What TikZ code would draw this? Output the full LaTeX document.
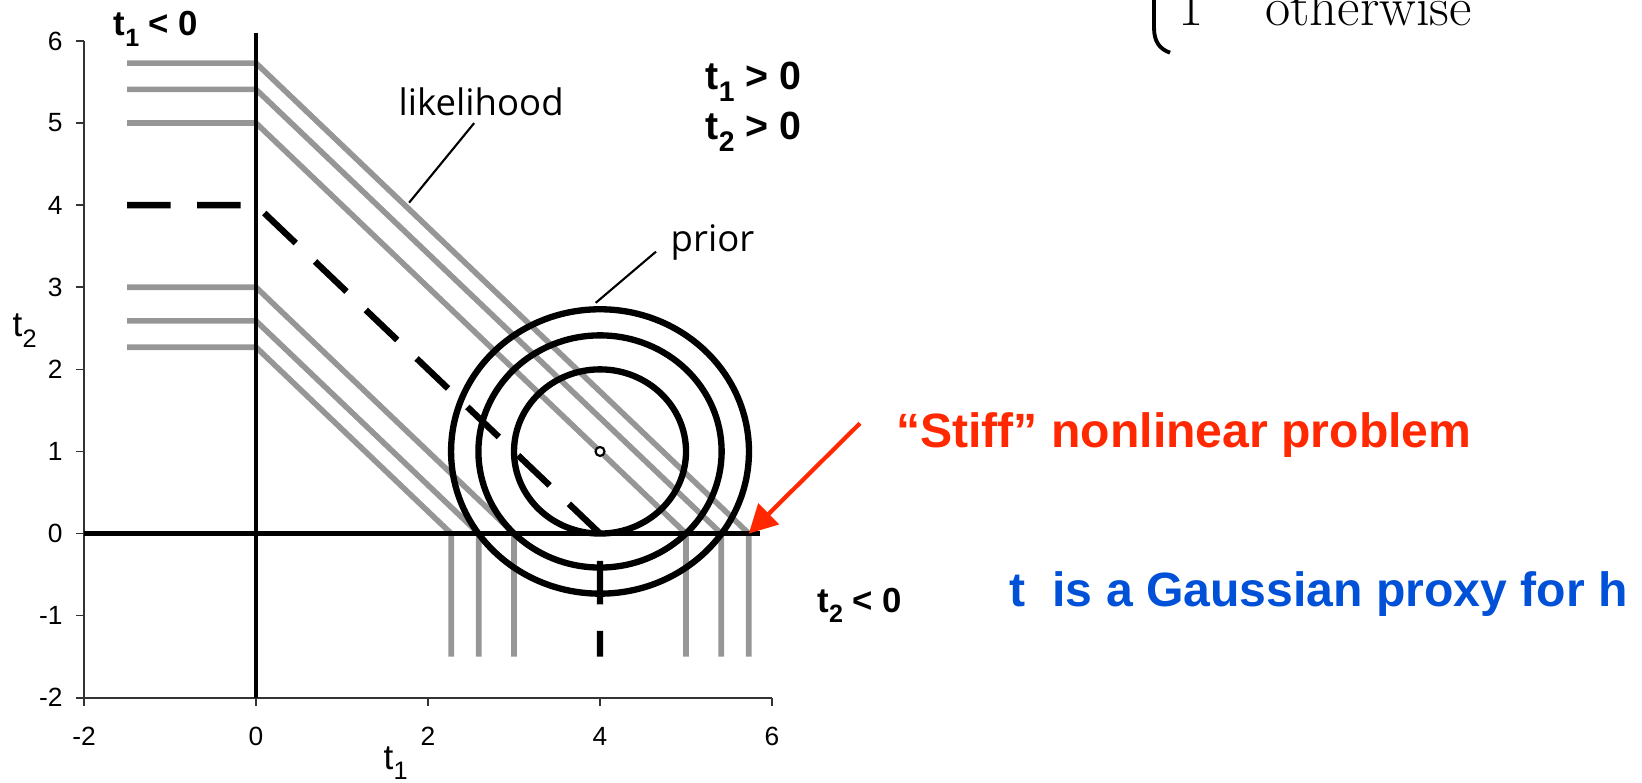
\documentclass[tikz,border=0pt]{standalone}
\usepackage{fontspec}
\usepackage{xcolor}
\usepackage{tikz}
\usetikzlibrary{arrows.meta}
\newfontfamily\arialf{Liberation Sans}
\newfontfamily\opensf{Open Sans}
\definecolor{stiffred}{RGB}{255,40,0}
\definecolor{proxyblue}{RGB}{0,80,216}
\definecolor{likegray}{RGB}{150,150,150}
\newcommand{\tsub}[1]{\raisebox{-.3em}{\scalebox{.72}{#1}}}

\begin{document}
\begin{tikzpicture}[x=0.86cm,y=0.821cm,>=Stealth,
  likeline/.style={likegray,line width=1.6pt},
  axisline/.style={black,line width=1.3pt},
  frameline/.style={black!80,line width=0.45pt},
  priorring/.style={black,line width=1.8pt},
  mapline/.style={black,line width=1.8pt,dash pattern=on 0.435cm off 0.267cm},
  leader/.style={black,line width=0.6pt},
  ticklab/.style={inner sep=0pt,font=\arialf\fontsize{7.5}{9}\selectfont},
  axislab/.style={inner sep=0pt,anchor=base west,font=\arialf\fontsize{10}{12}\selectfont},
  regionlab/.style={inner sep=0pt,anchor=base west,font=\arialf\bfseries\fontsize{9.9}{11}\selectfont},
  notelab/.style={inner sep=0pt,anchor=base west,font=\opensf\fontsize{10.4}{12}\selectfont},
  slidelab/.style={inner sep=0pt,anchor=base west,font=\arialf\bfseries\fontsize{13.7}{16}\selectfont}]
  \useasboundingbox (-2.977,-3.026) rectangle (16.116,6.499);

  % likelihood contours (truncated at t1=0 and t2=0)
  \foreach \c in {2.27,2.59,3,5,5.41,5.73}
    \draw[likeline] (-1.5,\c) -- (0,\c) -- (\c,0) -- (\c,-1.5);

  % frame with ticks
  \draw[frameline] (-2,6) -- (-2,-2) -- (6,-2);
  \foreach \k in {-2,...,6} {
    \draw[frameline] (-2,\k) -- ++(-0.08cm,0);
    \node[ticklab,anchor=east] (yl\k) at (-2.241,\k) {\k};
  }
  \foreach \k in {-2,0,2,4,6} {
    \draw[frameline] (\k,-2) -- ++(0,-0.08cm);
    \node[ticklab,anchor=north] (xl\k) at (\k,-2.352) {\k};
  }
  \node[axislab] (t2lab) at (-2.837,2.398) {t\tsub{2}};
  \node[axislab] (t1lab) at (1.477,-2.87) {t\tsub{1}};

  \draw[axisline] (0,6.1) -- (0,-2);
  \draw[axisline] (-2,0) -- (5.86,0);

  % MAP path
  \draw[mapline] (-1.5,4) -- (0,4) -- (4,0) -- (4,-1.5);

  % prior contours
  \foreach \r in {1,1.414,1.732}
    \draw[priorring] (4,1) circle[radius=\r];
  \draw[line width=0.6pt,fill=white] (4,1) circle[radius=0.045cm];

  \node[regionlab] (negone) at (-1.663,6.061) {t\tsub{1} < 0};
  \node[regionlab,font=\arialf\bfseries\fontsize{11.2}{13}\selectfont] (posone) at (5.221,5.403) {t\tsub{1} > 0};
  \node[regionlab,font=\arialf\bfseries\fontsize{11.2}{13}\selectfont] (postwo) at (5.221,4.794) {t\tsub{2} > 0};
  \node[regionlab] (negtwo) at (6.520,-0.959) {t\tsub{2} < 0};

  \node[notelab] (lik) at (1.651,5.098) {likelihood};
  \node[notelab] (prior) at (4.814,3.434) {prior};
  \coordinate (likpt) at (1.78,4.03);
  \coordinate (priorpt) at (3.95,2.81);
  \draw[leader] ([shift={(-0.07cm,-0.07cm)}]lik.south) -- (likpt);
  \draw[leader] ([xshift=-0.14cm]prior.base west) -- (priorpt);

  \node[slidelab,text=stiffred] (stiff) at (7.437,1.046) {“Stiff” nonlinear problem};
  \coordinate (stiffpt) at (5.73,0);
  \draw[stiffred,line width=1.2pt,-{Triangle[length=8pt,width=8.2pt]}]
    ([shift={(-0.356cm,0.244cm)}]stiff.base west) -- (stiffpt);
  \node[slidelab,text=proxyblue] (proxy) at (8.756,-0.890) {t\ \ is a Gaussian proxy for h};

  % cut-off piece of the slide's equation
  \draw[line width=1.1pt] (10.442,6.6) -- (10.442,6.158)
    .. controls (10.442,5.99) and (10.51,5.90) .. (10.628,5.857);
  \node[inner sep=0pt,anchor=base west,font=\fontsize{15.6}{18}\selectfont] (eqone) at (10.72,6.183) {1};
  \node[inner sep=0pt,anchor=base west,font=\fontsize{15.6}{18}\selectfont] (eqelse) at (11.727,6.183) {otherwise};
\end{tikzpicture}
\end{document}
